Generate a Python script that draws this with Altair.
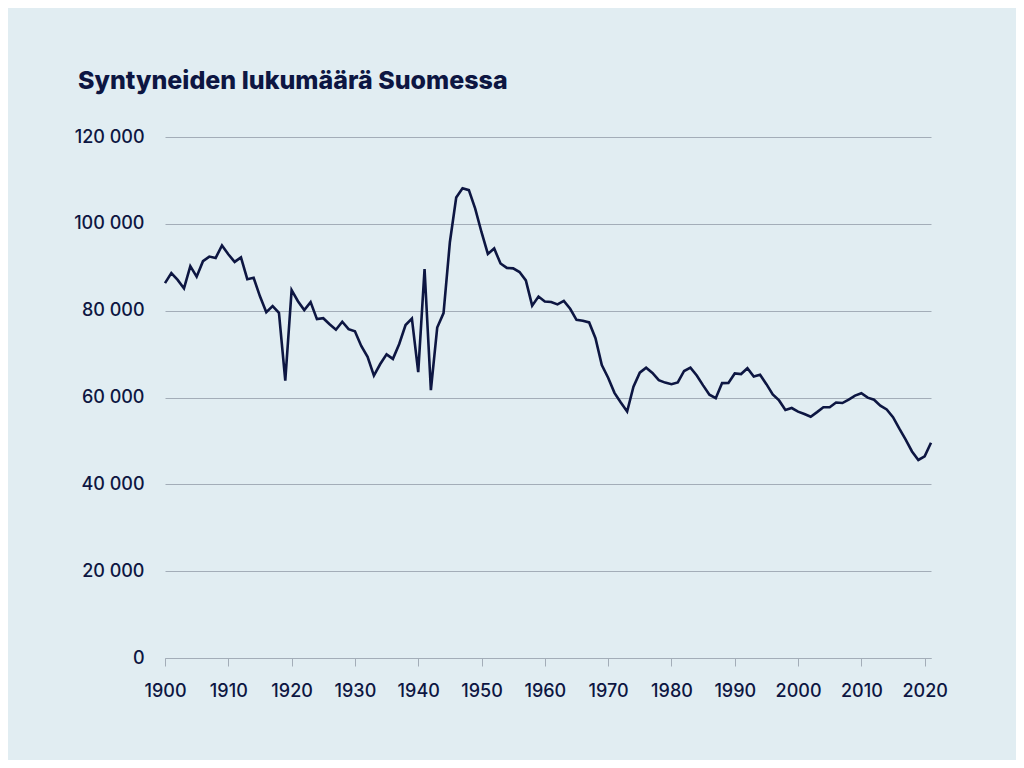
import altair as alt
import pandas as pd

years = list(range(1900, 2022))
births = [
    86339, 88637, 87082, 85123, 90253, 87841, 91401, 92457, 92146, 95005,
    92984, 91237, 92275, 87250, 87577, 83306, 79653, 81046, 79494, 63896,
    84714, 82165, 80140, 81961, 78057, 78260, 76875, 75611, 77457, 75739,
    75236, 71866, 69352, 65047, 67713, 69942, 68895, 72319, 76695, 78164,
    65849, 89565, 61672, 76112, 79446, 95758, 106075, 108168, 107759, 103515,
    98065, 93063, 94314, 90866, 89845, 89740, 88896, 86985, 81148, 83253,
    82129, 81996, 81454, 82251, 80428, 77885, 77697, 77289, 73654, 67450,
    64559, 61067, 58864, 56787, 62472, 65719, 66846, 65659, 63983, 63428,
    63064, 63469, 66106, 66892, 65076, 62796, 60632, 59827, 63316, 63348,
    65549, 65395, 66731, 64826, 65231, 63067, 60723, 59329, 57108, 57574,
    56742, 56189, 55555, 56630, 57758, 57745, 58840, 58729, 59530, 60430,
    60980, 59961, 59493, 58134, 57232, 55472, 52814, 50321, 47577, 45613,
    46463, 49594,
]
x_ticks = list(range(1900, 2021, 10))
y_ticks = [0, 20000, 40000, 60000, 80000, 100000, 120000]

df = pd.DataFrame({"vuosi": years, "syntyneet": births})

navy = "#0d1642"
grid = "#a3adb8"
bg = "#e1edf2"

chart = (
    alt.Chart(df)
    .mark_line(color=navy, strokeWidth=2.6, strokeJoin="miter")
    .encode(
        x=alt.X(
            "vuosi:Q",
            scale=alt.Scale(domain=[1900, 2021], nice=False, zero=False),
            axis=alt.Axis(
                values=x_ticks, format="d", title=None, grid=False,
                domainColor=grid, tickColor=grid, tickSize=8,
                labelFlush=False, labelOverlap=False,
                labelPadding=16, labelFontSize=18, labelColor=navy,
            ),
        ),
        y=alt.Y(
            "syntyneet:Q",
            scale=alt.Scale(domain=[0, 120000], nice=False),
            axis=alt.Axis(
                values=y_ticks, title=None, domain=False, ticks=False,
                labelExpr="replace(format(datum.value, ',d'), ',', ' ')",
                labelPadding=21, labelFontSize=18, labelColor=navy,
                gridColor=grid, gridWidth=1,
            ),
        ),
    )
    .properties(
        width=766,
        height=521,
        autosize="none",
        padding={"left": 157, "top": 129, "right": 85, "bottom": 102},
        background=bg,
        title=alt.Title(
            "Syntyneiden lukumäärä Suomessa",
            anchor="start", frame="group", dx=-87, offset=34,
            fontSize=25, fontWeight=800, color=navy, font="Inter",
        ),
    )
    .configure_view(stroke=None)
    .configure_axis(labelFont="Inter", labelFontWeight=500)
)

chart.save("out.html", embed_options={"renderer": "svg", "actions": False})
